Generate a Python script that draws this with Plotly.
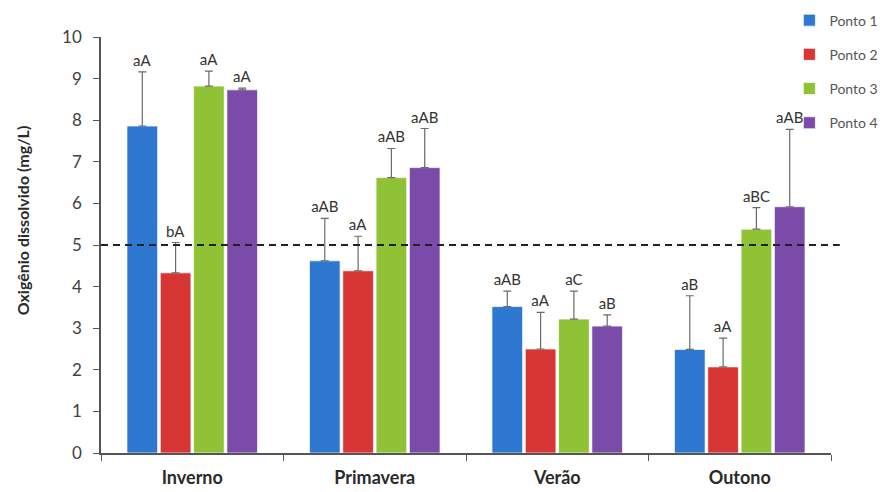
import plotly.graph_objects as go

# Estações do ano (categorias) e pontos de coleta
estacoes = ["Inverno", "Primavera", "Verão", "Outono"]
pontos = ["Ponto 1", "Ponto 2", "Ponto 3", "Ponto 4"]

# Médias de oxigênio dissolvido (mg/L) por ponto, na ordem das estações
ponto1 = [7.86, 4.62, 3.52, 2.49]
ponto2 = [4.33, 4.38, 2.50, 2.07]
ponto3 = [8.82, 6.62, 3.22, 5.38]
ponto4 = [8.73, 6.86, 3.05, 5.92]

# Desvios padrão (barra de erro superior)
dp1 = [1.30, 1.02, 0.37, 1.29]
dp2 = [0.73, 0.83, 0.88, 0.69]
dp3 = [0.36, 0.70, 0.67, 0.52]
dp4 = [0.04, 0.94, 0.27, 1.86]

# Letras do teste de comparação de médias
letras1 = ["aA", "aAB", "aAB", "aB"]
letras2 = ["bA", "aA", "aA", "aA"]
letras3 = ["aA", "aAB", "aC", "aBC"]
letras4 = ["aA", "aAB", "aB", "aAB"]

# Limite de referência (mg/L)
limite = 5

medias = [ponto1, ponto2, ponto3, ponto4]
desvios = [dp1, dp2, dp3, dp4]
letras = [letras1, letras2, letras3, letras4]
cores = ["#2f78d2", "#d83535", "#8fc234", "#7a4ba8"]

fig = go.Figure()

for k in range(4):
    fig.add_trace(go.Bar(
        x=estacoes, y=medias[k], name=pontos[k],
        offsetgroup=str(k), legendgroup=str(k),
        marker=dict(color=cores[k], line=dict(color="rgba(255,255,255,0.7)", width=1)),
        error_y=dict(type="data", array=desvios[k], arrayminus=[0] * 4,
                     symmetric=False, color="#6a6a6a", thickness=1.2, width=4),
        hoverinfo="skip",
    ))

# Letras posicionadas acima da barra de erro (barra transparente até média + desvio)
for k in range(4):
    topo = [m + d for m, d in zip(medias[k], desvios[k])]
    fig.add_trace(go.Bar(
        x=estacoes, y=topo, offsetgroup=str(k), showlegend=False,
        marker=dict(color="rgba(0,0,0,0)", line=dict(width=0)),
        text=letras[k], textposition="outside", cliponaxis=False,
        textfont=dict(size=15, color="#333333", family="Lato"),
        hoverinfo="skip",
    ))

fig.add_shape(type="line", xref="paper", yref="y", x0=0, x1=1.012, y0=limite, y1=limite,
              line=dict(color="#222222", width=2, dash="7px,5px"))

fig.add_annotation(text="<b>Oxigênio dissolvido (mg/L)</b>", textangle=-90,
                   xref="paper", yref="paper", x=-0.108, y=0.56,
                   xanchor="center", yanchor="middle", showarrow=False,
                   font=dict(size=16, color="#2a2a2a", family="Lato"))

fig.update_layout(
    width=891, height=492,
    margin=dict(l=101, r=60, t=37, b=39, autoexpand=False),
    paper_bgcolor="white", plot_bgcolor="white",
    barmode="group", bargap=0.27, bargroupgap=0.08,
    font=dict(family="Lato", color="#404040"),
    legend=dict(x=0.943, y=1.078, xanchor="left", yanchor="top",
                font=dict(size=14, color="#555555"), tracegroupgap=13,
                bgcolor="rgba(0,0,0,0)"),
    xaxis=dict(showline=True, linecolor="#555555", linewidth=1.5, ticks="outside",
               tickson="boundaries", ticklen=6, tickcolor="#555555",
               tickfont=dict(size=18, color="#2a2a2a", family="Lato", weight="bold"),
               ticklabelstandoff=8),
    yaxis=dict(range=[0, 10], dtick=1, showline=True, linecolor="#555555", linewidth=1.5,
               ticks="outside", ticklen=6, tickcolor="#555555", showgrid=False,
               zeroline=False, ticklabelstandoff=8,
               tickfont=dict(size=17, color="#404040", family="Lato")),
)

fig.write_html("out.html")
